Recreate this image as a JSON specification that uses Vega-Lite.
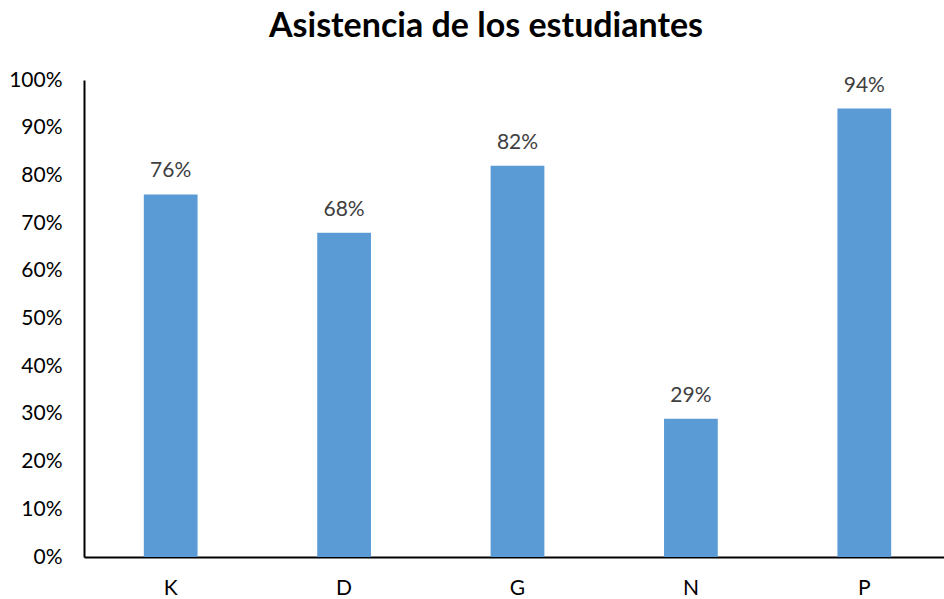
{
  "$schema": "https://vega.github.io/schema/vega-lite/v6.json",
  "width": 860,
  "height": 477,
  "autosize": {"type": "none"},
  "padding": {"left": 84, "top": 80, "right": 0, "bottom": 42},
  "background": "white",
  "title": {
    "text": "Asistencia de los estudiantes",
    "font": "Lato",
    "fontSize": 34,
    "fontWeight": "bold",
    "color": "#000000",
    "anchor": "middle",
    "frame": "group",
    "offset": 25,
    "dx": -28
  },
  "data": {
    "values": [
      {"cat": "K", "value": 0.76},
      {"cat": "D", "value": 0.68},
      {"cat": "G", "value": 0.82},
      {"cat": "N", "value": 0.29},
      {"cat": "P", "value": 0.94}
    ]
  },
  "config": {"view": {"stroke": null}},
  "encoding": {
    "x": {
      "field": "cat",
      "type": "nominal",
      "sort": null,
      "scale": {"range": [0, 867], "paddingInner": 0.69, "paddingOuter": 0.345},
      "axis": {
        "title": null,
        "labelAngle": 0,
        "labelFont": "Lato",
        "labelFontSize": 21,
        "labelColor": "#000000",
        "labelPadding": 20,
        "ticks": false,
        "domainColor": "#000000",
        "domainWidth": 2,
        "grid": false
      }
    },
    "y": {
      "field": "value",
      "type": "quantitative",
      "scale": {"domain": [0, 1], "nice": false},
      "axis": {
        "title": null,
        "format": ".0%",
        "values": [0, 0.1, 0.2, 0.3, 0.4, 0.5, 0.6, 0.7, 0.8, 0.9, 1],
        "labelFont": "Lato",
        "labelFontSize": 21,
        "labelColor": "#000000",
        "labelPadding": 22,
        "ticks": false,
        "grid": false,
        "domainColor": "#000000",
        "domainWidth": 2
      }
    }
  },
  "layer": [
    {"mark": {"type": "bar", "color": "#5B9BD5"}},
    {
      "mark": {"type": "text", "font": "Lato", "fontSize": 21, "color": "#404040", "baseline": "alphabetic", "dy": -17},
      "encoding": {"text": {"field": "value", "type": "quantitative", "format": ".0%"}}
    }
  ]
}
